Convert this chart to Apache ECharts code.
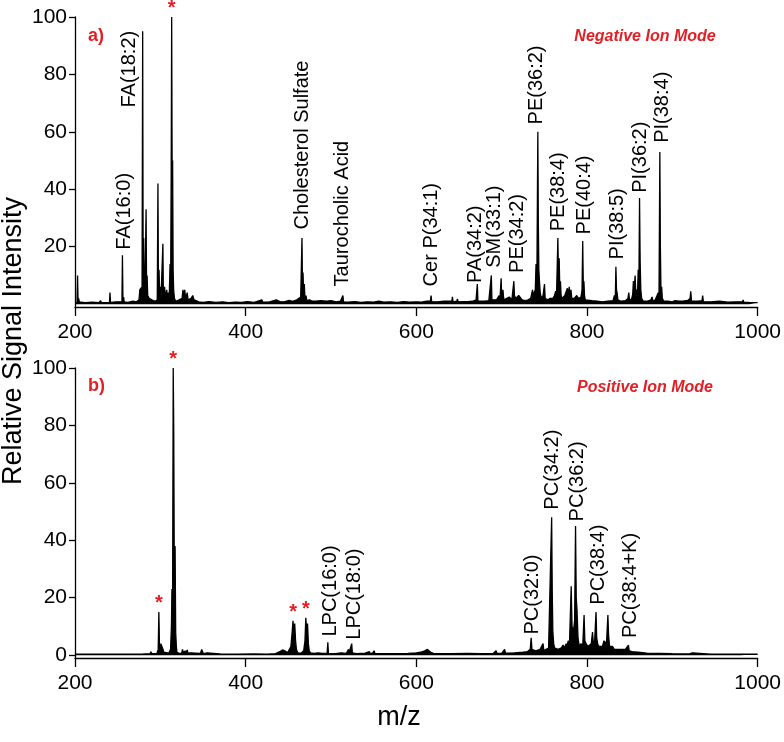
<!DOCTYPE html>
<html><head><meta charset="utf-8">
<script src="https://cdn.jsdelivr.net/npm/echarts@6/dist/echarts.min.js"></script>
<style>html,body{margin:0;padding:0;background:#fff}#c{width:784px;height:742px}</style>
</head><body><div id="c"></div>
<script>
// ---------- data ----------
const xTicks = [200, 400, 600, 800, 1000];
const negYTicks = [20, 40, 60, 80, 100];
const posYTicks = [0, 20, 40, 60, 80, 100];

// a) Negative ion mode spectrum (m/z, relative intensity)
const negMz = [200,202.4,203,203.6,204.3,205,212,220,228,230,231,240.4,241,241.6,248,250,255,255.6,256.2,257,257.6,262,268,272,275,276,277.5,278.6,279.3,279.9,280.5,281.1,282,283.3,283.9,284.5,285.2,287,290,294,296.4,297.2,297.8,298.5,299.2,300.1,300.8,302.2,303,303.6,305,306,307.5,308.5,309.5,310.4,311.4,312.1,312.7,313.3,313.9,314.4,315,315.6,316.5,318,322,325.5,326.5,327.5,328.6,329.6,331.5,332.5,336,338,339.5,342,345,350,357,365,373,380,388,395,402,410,419,420,428,436,440,445,451,455,460,462,464.5,466,466.6,467.2,467.9,468.7,469.5,470.7,471.7,475,478,482,488,495,500,506,511,514,514.6,520,528,535,542,550,556,562,570,578,585,592,600,606,612,616.4,617.3,618,625,632,635,641.6,642.3,643,647.5,648.2,649,655,660,666,670,671.5,672.2,680,685,687.2,687.9,688.6,690,694,697,698,699.4,700.1,701.5,702.5,706,709,712,713.6,714.3,715,716.5,718,720,722,724,728,731,734,736.2,737.2,739.4,740.3,741.2,742.4,743,743.6,744.3,745.2,746.5,748.5,750.2,751,754,757,760,762,763.3,764.3,765.9,766.6,767.4,768.1,768.9,769.7,771,774,775.5,777,778,779.2,780.2,781.2,782.2,785,788,790,792,793,794.2,795,795.7,796.4,797.1,798,800,806,812,818,824,830.5,832.2,833.2,833.9,834.6,835.3,836.2,840,845,848,849,850,852.5,853.6,854.4,855.2,856.4,857.2,858.3,859.3,860,860.8,861.6,862.3,863.1,864,866,870,875,876.2,877.5,880,882,883.5,884.4,885.4,886,886.7,887.5,888.3,890,895,900,903,905,908,912,918,920.8,921.6,922.5,930,934.8,935.6,936.4,945,955,965,975,982.3,983,983.7,990,1000];
const negInt = [0.5,0.6,10,1,2,0.8,0.5,0.7,0.5,1.2,0.5,0.6,4,0.6,0.8,0.6,0.8,17,1,2.5,0.8,0.6,1,0.8,1.5,5,5.5,6,95,10,23,8,4,33,6,10,3,2,1.5,1,1.5,42,4,12,3,6,2,1.5,21,2,6,2,5,2,4,2,14,8,44,100,40,50,12,5,2,1,1.5,2,5,2.5,5,2,4,1.5,2,3,1.5,1.2,0.8,0.6,0.9,0.6,0.8,0.5,0.7,0.6,0.9,0.6,1.5,0.7,0.8,1.5,0.9,0.8,1.3,1,1.5,1.5,2.5,23,6,11,4,7,2,3,1.2,1.5,1,1,1.2,1,1.2,0.8,1,3,0.8,0.7,0.9,0.6,0.8,0.7,1,0.7,0.8,0.6,0.9,0.7,0.8,0.7,1,1,3,0.8,0.8,1,1,1,2.5,0.8,1,1.8,0.8,0.9,0.9,1,1.5,7,1,1,1.2,1.5,10,1.5,1,1.5,3,1.5,9,2,5,1.5,2,2.5,1.5,2,8,3,2,2.5,3,2.5,1.5,1.2,1.5,2,5,3,5,14,5,60,28,12,8,4,2,3,7,2,1.5,2,2,3,4.5,3,23,8,16,6,8,3,2,3,3.5,5.5,3,6,3,5,2,2,3,2,2.5,2.5,5,22,6,8,3,1.5,1,1.2,1,0.8,1,1.2,3,2,13,5,4,1.5,1,1.2,2,4,1,2,3.5,8,4,10,4,5,4,12,5,37,15,5,2,1,1,1.5,2.5,1,1.5,2,4,3,53,20,5,6,2,1,1,0.8,1.2,1.5,1,1,1.3,2,4.5,1,1,1.2,3,0.8,0.8,1,0.7,0.8,0.8,1.5,0.7,0.6,0.5];

// b) Positive ion mode spectrum (m/z, relative intensity)
const posMz = [200,220,240,260,280,288,289,290,296,297.5,298.3,299,299.8,300.6,301.5,302.4,303.2,304,306,310,312,313,313.6,314.4,315.1,315.7,316.4,317.3,318,318.8,319.5,322,325,326,327,329,330,331.5,332.5,336,338,347,348.5,349.5,350.5,355,356,370,390,410,425,435,440,443,446,449,451,453,454.5,455.5,456.5,457.5,458.5,459.5,461,465,468,469.5,470.5,471.5,472.5,473.5,474.5,476,480,485,490,495.5,496.3,497,505,512,513,518,520.5,521.3,522.5,524.3,525,530,540,545,546,549,550.5,551.5,560,575,590,600,605,610,613,614.5,617,620,640,660,675,690,693.5,694.5,700,703.5,704.5,715,725,730,733.5,734.6,735.5,740,745,747,748.5,749.5,752,755,757,758.6,759.3,760,761,762,766,770,772,774,775.5,776.5,778,779.5,781.5,782.5,784,785.5,786.6,787.4,788.3,789.5,791,793,795,796.6,797.5,799,801,803,805,806.5,807.5,809,810.6,811.4,812.5,814,816,818,820,821.5,823,824.5,825.3,826.5,828,830,832,836,840,845,847,848.6,849.5,853,860,870,885,900,920,923.5,925,945,962,963.5,965,980,1000];
const posInt = [0.3,0.3,0.35,0.3,0.4,0.5,1.2,0.5,0.6,2,15,3,1,4,3.5,4,2,1,0.6,0.7,2,10,23,20,100,80,25,38,8,3,1,0.6,0.7,2,0.8,1.5,0.8,1.8,0.7,0.8,0.5,0.6,2,1.5,0.5,0.8,0.5,0.4,0.3,0.4,0.3,0.5,1.2,1.8,1.5,0.8,1,3,8,12,7,11,5,2,0.8,0.7,1.5,5,13,8,11,4,1.5,0.8,0.6,0.8,0.6,0.7,4.5,0.6,0.5,0.8,0.5,0.6,2,1,1.5,4,0.8,0.5,0.7,1.2,0.5,0.8,1.5,0.6,0.5,0.5,0.6,0.8,1,1.5,2,1.6,1,0.6,0.5,0.6,0.5,0.6,1.5,0.6,0.6,2,0.7,0.8,1,1.2,2,6,2,1.5,2,1.5,4,1.5,2,2.5,3,48,22,8,4,2.5,2,2.5,3.5,2.5,4,3,5,4,24,10,8,12,45,20,16,6,3,4,3,14,5,4,3,3,4,8,4,5,15,6,4,3,3,3,5,4,5,14,7,3,3.5,3,2,2,2,2,2,3.5,1.5,1.2,1,0.7,0.6,0.5,0.4,0.8,0.4,0.3,0.3,0.7,0.3,0.3,0.3];

// peak annotations (label text, m/z, intensity at label foot)
const negLabels = ['FA(16:0)','FA(18:2)','Cholesterol Sulfate','Taurocholic Acid','Cer P(34:1)','PA(34:2)','SM(33:1)','PE(34:2)','PE(36:2)','PE(38:4)','PE(40:4)','PI(38:5)','PI(36:2)','PI(38:4)'];
const negLabelMz = [258, 264.2, 466.7, 513.4, 617.5, 669.2, 691.4, 718.6, 741, 767, 796.6, 835.4, 862.7, 888];
const negLabelVal = [18.8, 68.3, 25.8, 6.0, 6.0, 7.2, 12.5, 10.7, 62.4, 25.2, 24.1, 15.4, 38.6, 56];

const posLabels = ['LPC(16:0)','LPC(18:0)','PC(32:0)','PC(34:2)','PC(36:2)','PC(38:4)','PC(38:4+K)'];
const posLabelMz = [499.8, 527.8, 735.9, 759.5, 788.3, 813.2, 850.9];
const posLabelVal = [6.3, 5.2, 7.0, 50.5, 46.4, 17.4, 5.8];

// asterisk-marked peaks
const negStarMz = [313.3];
const negStarVal = [100];
const posStarMz = [298.3, 315.1, 455.5, 470.5];
const posStarVal = [15, 100, 12, 13];

// ---------- chart ----------
const FONT = 'Liberation Sans, Arial, sans-serif';
const RED = '#e31e24';
const zip = (a, b) => a.map((v, i) => [v, b[i]]);

function xAxis(grid) {
  return {
    type: 'value', gridIndex: grid, min: 200, max: 1000, interval: 200,
    axisLine: { onZero: false, lineStyle: { color: '#000', width: 1.3 } },
    axisTick: { show: true, length: 9, customValues: xTicks, lineStyle: { color: '#000', width: 1.3 } },
    axisLabel: { color: '#000', fontSize: 21, fontFamily: FONT, margin: 15, customValues: xTicks,
      formatter: v => String(v) },
    splitLine: { show: false }
  };
}
function yAxis(grid, ticks) {
  return {
    type: 'value', gridIndex: grid, min: -1, max: 100,
    axisLine: { show: true, lineStyle: { color: '#000', width: 1.3 } },
    axisTick: { show: true, length: 6, customValues: ticks, lineStyle: { color: '#000', width: 1.3 } },
    axisLabel: { color: '#000', fontSize: 21, fontFamily: FONT, margin: 8, customValues: ticks },
    splitLine: { show: false }
  };
}
function spectrum(idx, mz, inten) {
  return {
    type: 'line', xAxisIndex: idx, yAxisIndex: idx, data: zip(mz, inten),
    showSymbol: false, symbol: 'none', lineStyle: { color: '#000', width: 1.3 },
    areaStyle: { color: '#000', opacity: 1, origin: 0 },
    silent: true, animation: false, z: 2
  };
}
function labels(idx, names, mz, val) {
  return {
    type: 'scatter', xAxisIndex: idx, yAxisIndex: idx, symbolSize: 1,
    itemStyle: { color: 'rgba(0,0,0,0)', opacity: 1 }, silent: true, animation: false, z: 3,
    data: names.map((n, i) => ({ name: n, value: [mz[i], val[i]] })),
    label: {
      show: true, formatter: '{b}', position: 'top', distance: 0, rotate: 90, opacity: 1,
      align: 'left', verticalAlign: 'middle', color: '#000', fontSize: 20, fontFamily: FONT
    }
  };
}
function stars(idx, mz, val) {
  return {
    type: 'scatter', xAxisIndex: idx, yAxisIndex: idx, symbolSize: 1,
    itemStyle: { color: 'rgba(0,0,0,0)', opacity: 1 }, silent: true, animation: false, z: 3,
    data: mz.map((m, i) => ({ name: '*', value: [m, val[i]] })),
    label: { show: true, formatter: '*', position: 'top', distance: -2, opacity: 1, color: RED, fontSize: 20, fontWeight: 'bold', fontFamily: FONT }
  };
}

const chart = echarts.init(document.getElementById('c'), null, { renderer: 'canvas' });
chart.setOption({
  animation: false,
  backgroundColor: '#fff',
  grid: [
    { left: 75, width: 685, top: 17, height: 290 },
    { left: 75, width: 685, top: 368, height: 290 }
  ],
  xAxis: [xAxis(0), xAxis(1)],
  yAxis: [yAxis(0, negYTicks), yAxis(1, posYTicks)],
  series: [
    spectrum(0, negMz, negInt),
    spectrum(1, posMz, posInt),
    labels(0, negLabels, negLabelMz, negLabelVal),
    labels(1, posLabels, posLabelMz, posLabelVal),
    stars(0, negStarMz, negStarVal),
    stars(1, posStarMz, posStarVal)
  ],
  graphic: [
    { type: 'text', x: 14, y: 341, rotation: Math.PI / 2,
      style: { text: 'Relative Signal Intensity', fill: '#000', font: '27px ' + FONT, textAlign: 'center', textVerticalAlign: 'middle' } },
    { type: 'text', x: 399, y: 718,
      style: { text: 'm/z', fill: '#000', font: '27px ' + FONT, textAlign: 'center', textVerticalAlign: 'middle' } },
    { type: 'text', x: 88, y: 36,
      style: { text: 'a)', fill: RED, font: 'bold 18px ' + FONT, textAlign: 'left', textVerticalAlign: 'middle' } },
    { type: 'text', x: 88, y: 386,
      style: { text: 'b)', fill: RED, font: 'bold 18px ' + FONT, textAlign: 'left', textVerticalAlign: 'middle' } },
    { type: 'text', x: 645, y: 37,
      style: { text: 'Negative Ion Mode', fill: RED, font: 'italic bold 16px ' + FONT, textAlign: 'center', textVerticalAlign: 'middle' } },
    { type: 'text', x: 645, y: 388,
      style: { text: 'Positive Ion Mode', fill: RED, font: 'italic bold 16px ' + FONT, textAlign: 'center', textVerticalAlign: 'middle' } }
  ]
});
</script>
</body></html>
